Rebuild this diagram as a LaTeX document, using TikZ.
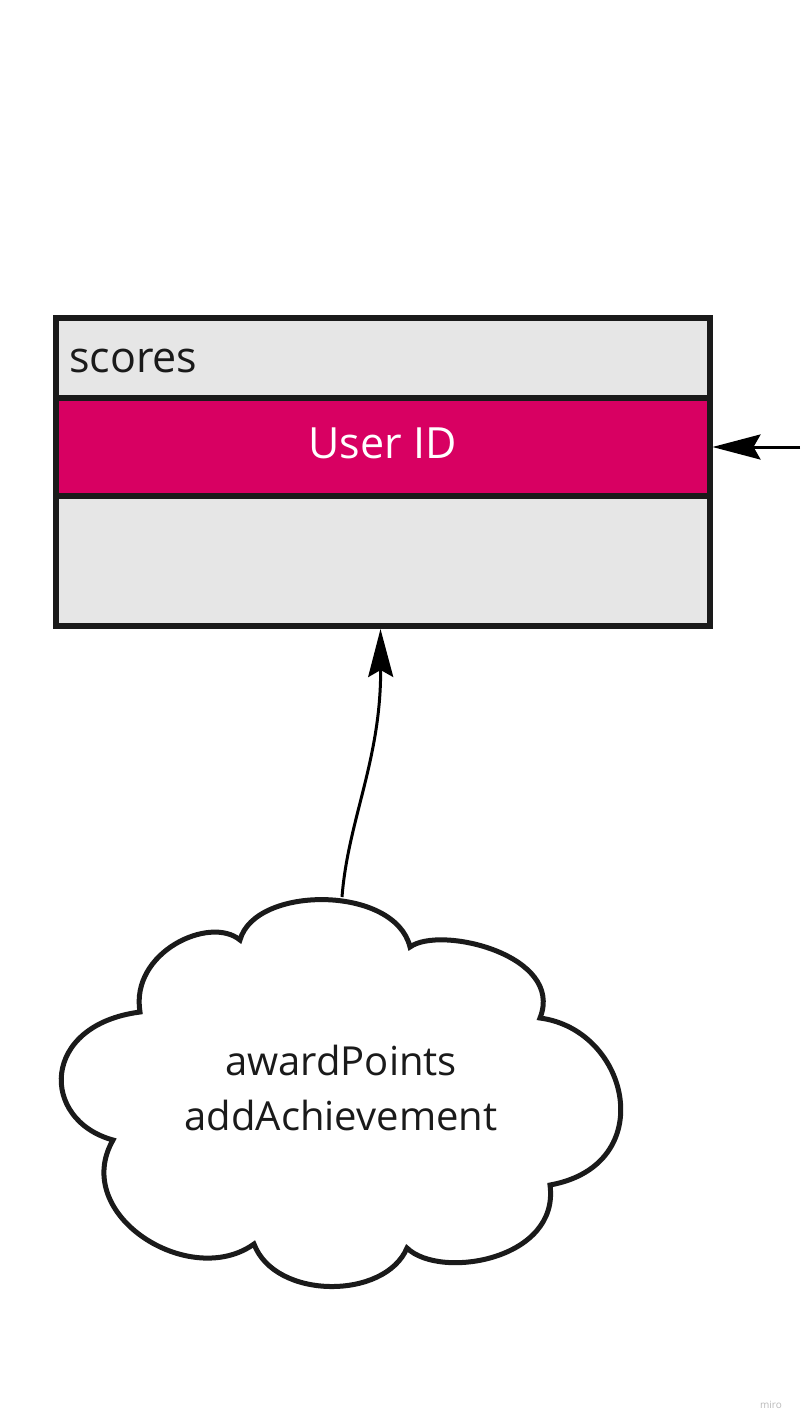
\documentclass[tikz,border=0pt]{standalone}
\usepackage{fontspec}
\setmainfont{Open Sans}
\usetikzlibrary{arrows.meta}
\definecolor{boxgray}{RGB}{230,230,230}
\definecolor{edge}{RGB}{26,26,26}
\definecolor{keypink}{RGB}{216,0,98}
\definecolor{wm}{RGB}{185,185,185}
\tikzset{
  tablebox/.style={draw=edge, fill=boxgray, line width=6pt, minimum width=654pt, minimum height=308pt, anchor=north west, inner sep=0pt},
  keyrow/.style={draw=edge, fill=keypink, line width=6pt, minimum width=654pt, minimum height=98pt, anchor=north west, inner sep=0pt, text=white, text depth=8pt, font=\fontsize{43}{50}\selectfont},
  cloudline/.style={draw=edge, line width=5pt, fill=white, line join=miter},
  conn/.style={draw=black, line width=3pt, -{Stealth[length=48pt, width=25pt, inset=7pt]}},
}
\begin{document}
\begin{tikzpicture}[x=1pt, y=-1pt]
\useasboundingbox (0,0) rectangle (800,1426);
\node[tablebox] (table) at (52.5,315) {};
\node[keyrow] (userid) at (52.5,395) {User ID};
\node[anchor=base west, inner sep=0pt, text=edge, font=\fontsize{43}{50}\selectfont] (title) at (69,372) {scores};
% cloud
\path[cloudline] (140,1012)
  .. controls (130,952) and (210,915) .. (240,940)
  .. controls (255,885) and (395,885) .. (410,947)
  .. controls (440,925) and (565,955) .. (540,1018)
  .. controls (630,1030) and (660,1165) .. (550,1185)
  .. controls (560,1260) and (440,1280) .. (407,1248)
  .. controls (385,1300) and (275,1300) .. (254,1244)
  .. controls (190,1290) and (70,1215) .. (113,1140)
  .. controls (40,1120) and (40,1025) .. cycle;
\coordinate (cloudtop) at (342,897);
\node[align=center, inner sep=0pt, text=edge, font=\fontsize{40}{55}\selectfont] (ops) at (341,1088) {awardPoints\\addAchievement};
\coordinate (rightend) at (800,447);
\draw[conn] (cloudtop) .. controls (348,820) and (381,760) .. ([xshift=-2pt]table.south);
\draw[conn] (rightend) -- (rightend -| table.east);
\node[anchor=base east, inner sep=0pt, text=wm, font=\fontsize{10}{12}\selectfont] (mark) at (782,1408) {miro};
\end{tikzpicture}
\end{document}
